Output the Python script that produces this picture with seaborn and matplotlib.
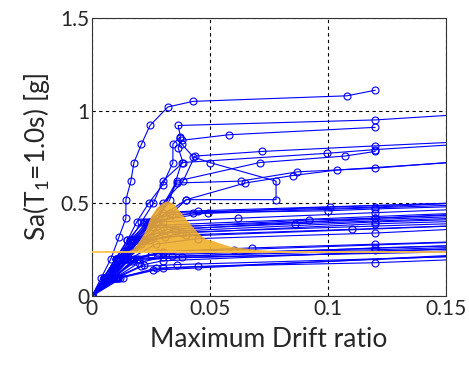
import numpy as np
import pandas as pd
import matplotlib
matplotlib.use("Agg")
import matplotlib.pyplot as plt
import seaborn as sns

# IDA curves: (drift list, Sa list)
upper_curves = [
    ([0, 0.004, 0.008, 0.0115, 0.0144, 0.0144, 0.0165, 0.0178, 0.021, 0.0246, 0.0322, 0.0428, 0.108, 0.120],
     [0, 0.1, 0.2, 0.32, 0.42, 0.52, 0.62, 0.72, 0.82, 0.92, 1.02, 1.05, 1.08, 1.11]),
    ([0, 0.005, 0.010, 0.015, 0.019, 0.024, 0.030, 0.0343, 0.0343, 0.0375, 0.0365, 0.12, 0.17],
     [0, 0.1, 0.2, 0.3, 0.4, 0.5, 0.6, 0.72, 0.82, 0.86, 0.92, 0.95, 0.99]),
    ([0, 0.005, 0.011, 0.016, 0.021, 0.026, 0.030, 0.0386, 0.0365, 0.038, 0.058, 0.12],
     [0, 0.1, 0.2, 0.3, 0.4, 0.5, 0.62, 0.72, 0.80, 0.84, 0.87, 0.91]),
    ([0, 0.007, 0.014, 0.022, 0.030, 0.040, 0.078, 0.078, 0.050, 0.043, 0.038, 0.0375],
     [0, 0.1, 0.2, 0.3, 0.4, 0.52, 0.52, 0.62, 0.72, 0.75, 0.82, 0.85]),
    ([0, 0.006, 0.012, 0.018, 0.024, 0.030, 0.0386, 0.0436, 0.072, 0.12, 0.17],
     [0, 0.1, 0.2, 0.3, 0.4, 0.5, 0.62, 0.755, 0.78, 0.81, 0.84]),
    ([0, 0.007, 0.014, 0.020, 0.027, 0.033, 0.038, 0.0996, 0.12, 0.17],
     [0, 0.1, 0.2, 0.3, 0.4, 0.52, 0.72, 0.77, 0.79, 0.83]),
    ([0, 0.007, 0.013, 0.019, 0.026, 0.036, 0.071, 0.107, 0.12],
     [0, 0.1, 0.2, 0.3, 0.4, 0.62, 0.72, 0.755, 0.78]),
    ([0, 0.007, 0.013, 0.020, 0.027, 0.036, 0.063, 0.087, 0.12, 0.2],
     [0, 0.1, 0.2, 0.3, 0.4, 0.61, 0.62, 0.67, 0.69, 0.77]),
    ([0, 0.008, 0.015, 0.022, 0.028, 0.040, 0.065, 0.085, 0.104, 0.2],
     [0, 0.1, 0.2, 0.3, 0.42, 0.52, 0.61, 0.65, 0.68, 0.76]),
]

lower_curves = [
    ([0, 0.005, 0.010, 0.016, 0.024, 0.033, 0.12, 0.2], [0, 0.1, 0.2, 0.3, 0.4, 0.45, 0.48, 0.53]),
    ([0, 0.006, 0.012, 0.018, 0.026, 0.043, 0.101, 0.2], [0, 0.1, 0.2, 0.3, 0.4, 0.45, 0.48, 0.52]),
    ([0, 0.005, 0.011, 0.017, 0.025, 0.049, 0.100, 0.12, 0.2], [0, 0.1, 0.2, 0.3, 0.4, 0.45, 0.46, 0.47, 0.50]),
    ([0, 0.006, 0.012, 0.019, 0.028, 0.062, 0.12, 0.2], [0, 0.1, 0.2, 0.3, 0.4, 0.42, 0.45, 0.49]),
    ([0, 0.007, 0.013, 0.020, 0.030, 0.092, 0.12, 0.2], [0, 0.1, 0.2, 0.3, 0.37, 0.41, 0.42, 0.46]),
    ([0, 0.006, 0.012, 0.020, 0.032, 0.086, 0.2], [0, 0.1, 0.2, 0.3, 0.36, 0.39, 0.44]),
    ([0, 0.007, 0.014, 0.022, 0.035, 0.12, 0.2], [0, 0.1, 0.2, 0.3, 0.35, 0.40, 0.43]),
    ([0, 0.008, 0.015, 0.024, 0.038, 0.12, 0.2], [0, 0.1, 0.2, 0.3, 0.34, 0.39, 0.42]),
    ([0, 0.007, 0.014, 0.023, 0.040, 0.110, 0.2], [0, 0.1, 0.2, 0.3, 0.33, 0.36, 0.40]),
    ([0, 0.008, 0.016, 0.027, 0.045, 0.12, 0.2], [0, 0.1, 0.2, 0.28, 0.31, 0.34, 0.39]),
    ([0, 0.006, 0.013, 0.022, 0.035, 0.12, 0.2], [0, 0.1, 0.2, 0.3, 0.36, 0.42, 0.47]),
    ([0, 0.008, 0.016, 0.030, 0.068, 0.12, 0.2], [0, 0.1, 0.2, 0.24, 0.26, 0.28, 0.31]),
    ([0, 0.009, 0.018, 0.030, 0.060, 0.2], [0, 0.1, 0.2, 0.235, 0.25, 0.31]),
    ([0, 0.009, 0.019, 0.028, 0.12, 0.2], [0, 0.1, 0.2, 0.23, 0.25, 0.28]),
    ([0, 0.010, 0.020, 0.030, 0.12, 0.2], [0, 0.1, 0.18, 0.21, 0.26, 0.29]),
    ([0, 0.012, 0.027, 0.045, 0.12, 0.2], [0, 0.1, 0.15, 0.16, 0.18, 0.22]),
    ([0, 0.010, 0.022, 0.030, 0.2], [0, 0.1, 0.17, 0.19, 0.28]),
    ([0, 0.011, 0.026, 0.2], [0, 0.1, 0.14, 0.25]),
    ([0, 0.013, 0.030, 0.2], [0, 0.1, 0.15, 0.24]),
    ([0, 0.009, 0.020, 0.2], [0, 0.1, 0.2, 0.26]),
    ([0, 0.005, 0.010, 0.015, 0.022, 0.030, 0.045, 0.2], [0, 0.1, 0.2, 0.3, 0.4, 0.45, 0.46, 0.52]),
    ([0, 0.006, 0.011, 0.017, 0.023, 0.034, 0.2], [0, 0.1, 0.2, 0.3, 0.4, 0.44, 0.51]),
    ([0, 0.007, 0.012, 0.017, 0.024, 0.2], [0, 0.1, 0.2, 0.3, 0.38, 0.47]),
    ([0, 0.006, 0.011, 0.018, 0.027, 0.2], [0, 0.1, 0.2, 0.3, 0.34, 0.41]),
    ([0, 0.008, 0.014, 0.021, 0.031, 0.2], [0, 0.1, 0.2, 0.28, 0.32, 0.40]),
    ([0, 0.007, 0.013, 0.025, 0.2], [0, 0.1, 0.2, 0.22, 0.29]),
    ([0, 0.009, 0.016, 0.034, 0.2], [0, 0.1, 0.2, 0.215, 0.27]),
    ([0, 0.010, 0.017, 0.038, 0.2], [0, 0.1, 0.19, 0.21, 0.25]),
    ([0, 0.006, 0.012, 0.019, 0.026, 0.2], [0, 0.1, 0.2, 0.3, 0.37, 0.45]),
    ([0, 0.011, 0.021, 0.036, 0.2], [0, 0.1, 0.16, 0.17, 0.23]),
]

# drift distribution at Sa = 0.24 (shape)
sa_level = 0.24
pdf_drift = [0.0, 0.012, 0.015, 0.0175, 0.020, 0.0225, 0.0246, 0.0274, 0.0300, 0.0319, 0.0345, 0.037,
             0.0415, 0.045, 0.048, 0.051, 0.058, 0.066, 0.071, 0.080, 0.090, 0.15]
pdf_top = [0.24, 0.24, 0.242, 0.257, 0.30, 0.35, 0.425, 0.48, 0.505, 0.515, 0.50, 0.46,
           0.39, 0.34, 0.31, 0.30, 0.27, 0.257, 0.25, 0.244, 0.241, 0.24]

rows = []
for i, (xs, ys) in enumerate(upper_curves + lower_curves):
    for j, (x, y) in enumerate(zip(xs, ys)):
        rows.append({"curve": i, "order": j, "drift": x, "sa": y})
df = pd.DataFrame(rows)

sns.set_style("white")
plt.rcParams["font.family"] = ["Lato", "DejaVu Sans"]
plt.rcParams["mathtext.fontset"] = "custom"
plt.rcParams["mathtext.rm"] = "Lato"

fig = plt.figure(figsize=(4.69, 3.66), dpi=100)
ax = fig.add_axes([0.196, 0.191, 0.755, 0.760])

sns.lineplot(data=df, x="drift", y="sa", units="curve", estimator=None, sort=False,
             color="#0000FF", linewidth=0.8, marker="o", markersize=5,
             markerfacecolor="none", markeredgecolor="#0000FF", markeredgewidth=0.8,
             ax=ax, legend=False)

ax.fill_between(pdf_drift, sa_level, pdf_top, color="#F0AE25", alpha=0.88, linewidth=0, zorder=3)
ax.axhline(sa_level, color="#FFC247", linewidth=1.3, zorder=3)

ax.set_xlim(0, 0.15)
ax.set_ylim(0, 1.5)
ax.set_xticks([0, 0.05, 0.1, 0.15])
ax.set_xticklabels(["0", "0.05", "0.1", "0.15"])
ax.set_yticks([0, 0.5, 1, 1.5])
ax.set_yticklabels(["0", "0.5", "1", "1.5"])
ax.grid(True, color="black", linestyle=(0, (3, 3)), linewidth=0.8)
ax.tick_params(direction="in", length=3, labelsize=15, pad=2, colors="#262626")
for s in ax.spines.values():
    s.set_color("#333333")
    s.set_linewidth(0.8)

ax.set_xlabel("Maximum Drift ratio", fontsize=19, labelpad=6)
ax.set_ylabel("Sa(T$_1$=1.0s) [g]", fontsize=19, labelpad=6)

fig.savefig("out.png", dpi=100)
